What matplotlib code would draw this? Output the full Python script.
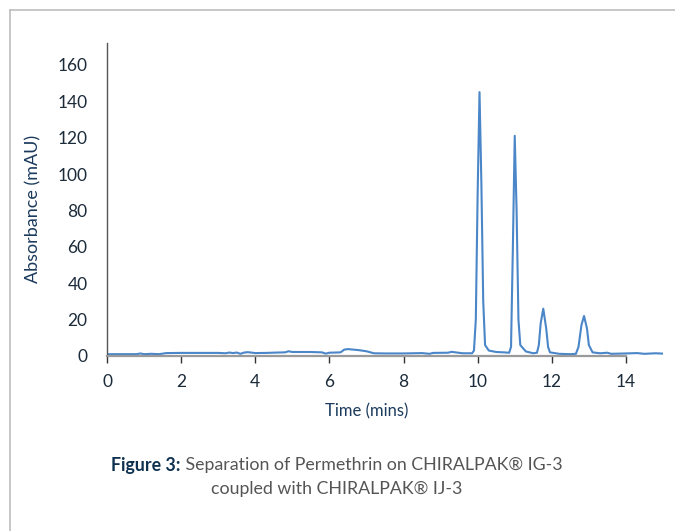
import numpy as np
import matplotlib
matplotlib.use('Agg')
import matplotlib.pyplot as plt
from matplotlib.lines import Line2D

# chromatogram trace (time in mins, absorbance in mAU)
time = [0.0, 0.8, 0.9, 1.0, 1.2, 1.4, 1.6, 2.0, 2.5, 3.0, 3.2, 3.3, 3.4, 3.5,
        3.6, 3.7, 3.8, 4.0, 4.3, 4.6, 4.8, 4.9, 5.0, 5.5, 5.8, 5.9, 6.0, 6.3,
        6.4, 6.5, 6.8, 7.0, 7.2, 7.5, 8.0, 8.5, 8.7, 8.8, 9.2, 9.3, 9.4, 9.6,
        9.85, 9.9, 9.95, 10.0, 10.05, 10.1, 10.15, 10.2, 10.3, 10.5, 10.7,
        10.85, 10.9, 10.95, 11.0, 11.05, 11.1, 11.15, 11.3, 11.5, 11.6, 11.65,
        11.7, 11.77, 11.85, 11.9, 11.95, 12.2, 12.5, 12.65, 12.72, 12.8, 12.87,
        12.95, 13.0, 13.1, 13.3, 13.5, 13.6, 14.0, 14.3, 14.5, 14.8, 15.0]
absorbance = [1.0, 1.0, 1.4, 1.0, 1.2, 1.0, 1.6, 1.7, 1.7, 1.7, 1.5, 1.9, 1.6,
              1.9, 1.2, 1.9, 2.1, 1.6, 1.7, 1.9, 2.0, 2.6, 2.2, 2.2, 2.0, 1.3,
              1.8, 2.0, 3.5, 3.8, 3.2, 2.6, 1.5, 1.4, 1.4, 1.6, 1.2, 1.7, 1.8,
              2.3, 2.0, 1.5, 1.5, 3.0, 20, 90, 145, 95, 30, 6, 3, 2.2, 2.0,
              1.8, 5, 60, 121, 80, 20, 6, 2.5, 1.5, 1.8, 6, 18, 26, 15, 5, 2,
              1.2, 1.0, 1.2, 5, 17, 22, 15, 6, 2, 1.5, 1.8, 1.2, 1.4, 1.6, 1.2,
              1.5, 1.3]

x_ticks = [0, 2, 4, 6, 8, 10, 12, 14]
y_ticks = [0, 20, 40, 60, 80, 100, 120, 140, 160]

plt.rcParams['font.family'] = ['Lato', 'DejaVu Sans']
navy = '#1b3a5c'
fig = plt.figure(figsize=(6.75, 5.31), dpi=100)
ax = fig.add_axes([107 / 675, 1 - 356 / 531, (663 - 107) / 675, (356 - 43) / 531])

ax.plot(time, absorbance, color='#4a86c8', linewidth=1.5)
ax.set_xlim(0, 15)
ax.set_ylim(0, 172)
ax.set_xticks(x_ticks)
ax.set_yticks(y_ticks)

for s in ['top', 'right']:
    ax.spines[s].set_visible(False)
ax.spines['bottom'].set_bounds(0, 14)
ax.spines['bottom'].set_color('#9a9a9a')
ax.spines['bottom'].set_linewidth(1.6)
ax.spines['left'].set_color('#555555')
ax.spines['left'].set_linewidth(1.0)
ax.tick_params(axis='x', length=5, width=1, color='#333333', labelsize=12.5,
               labelcolor='#1c2b3a', pad=8)
ax.tick_params(axis='y', length=0, labelsize=12.5, labelcolor='#1c2b3a', pad=14)
ax.set_xlabel('Time (mins)', fontsize=12, color=navy)
ax.xaxis.set_label_coords(7 / 15, -0.15)
ax.set_ylabel('Absorbance (mAU)', fontsize=13, color=navy)
ax.yaxis.set_label_coords(-(107 - 41) / 556, 0.47)

# light frame on left and top edges
fig.add_artist(Line2D([10 / 675, 10 / 675], [0, 1 - 10 / 531], color='#bdbdbd', linewidth=1.2))
fig.add_artist(Line2D([10 / 675, 1], [1 - 10 / 531, 1 - 10 / 531], color='#bdbdbd', linewidth=1.2))

# caption, first line in two colours
renderer = fig.canvas.get_renderer()
y1 = 1 - 465 / 531
t1 = fig.text(0, y1, 'Figure 3:', fontsize=12.8, fontweight='bold', color='#0f3150', va='center')
t2 = fig.text(0, y1, ' Separation of Permethrin on CHIRALPAK® IG-3', fontsize=12.8,
              color='#555555', va='center')
w1 = t1.get_window_extent(renderer).width / fig.bbox.width
w2 = t2.get_window_extent(renderer).width / fig.bbox.width
x0 = 337 / 675 - (w1 + w2) / 2
t1.set_x(x0)
t2.set_x(x0 + w1)
fig.text(337 / 675, 1 - 489 / 531, 'coupled with CHIRALPAK® IJ-3', fontsize=12.8,
         color='#555555', ha='center', va='center')

fig.savefig('out.png', dpi=100)
